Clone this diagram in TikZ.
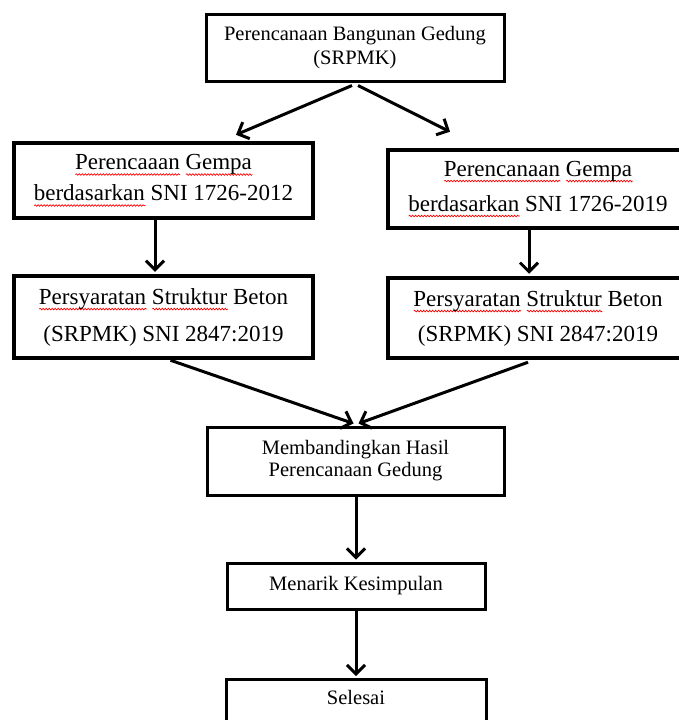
\documentclass[tikz,border=0pt]{standalone}
\usepackage{fontspec}
\setmainfont{Liberation Serif}
\usetikzlibrary{arrows.meta,calc,decorations.pathmorphing}
\newsavebox{\sqbox}
\newlength{\sqlen}
\newcommand{\sqw}[1]{\sbox{\sqbox}{#1}\setlength{\sqlen}{\wd\sqbox}%
  \rlap{\raisebox{-5pt}{\tikz[baseline=0pt,x=1pt,y=1pt]\draw[red,line width=0.7pt,decorate,decoration={snake,amplitude=0.8pt,segment length=3pt}] (0,0)--(\sqlen,0);}}\usebox{\sqbox}}
\tikzset{
  cbox/.style={draw, line width=3pt, inner sep=0pt, align=center, font=\fontsize{20.5}{24}\selectfont},
  sbox/.style={draw, line width=4.5pt, inner sep=0pt, align=center},
  arr/.style={line width=3pt, -{Straight Barb[length=9pt,width=18pt]}}
}
\begin{document}
\begin{tikzpicture}[x=1pt,y=-1pt]
\useasboundingbox (0,0) rectangle (679,720);
\node[cbox, minimum width=298pt, minimum height=67pt] (top) at (355,47.5)
  {Perencanaan Bangunan Gedung\\(SRPMK)};
\node[sbox, minimum width=299pt, minimum height=75pt, font=\fontsize{23}{31}\selectfont] (L2) at (163.5,180.5)
  {\sqw{Perencaaan} \sqw{Gempa}\\\sqw{berdasarkan} SNI 1726-2012};
\node[sbox, minimum width=300pt, minimum height=78pt, font=\fontsize{23}{35}\selectfont] (R2) at (538,189)
  {\sqw{Perencanaan} \sqw{Gempa}\\\sqw{berdasarkan} SNI 1726-2019};
\node[sbox, minimum width=299pt, minimum height=82pt, font=\fontsize{23}{37}\selectfont] (L3) at (163.5,317)
  {\sqw{Persyaratan} \sqw{Struktur} Beton\\(SRPMK) SNI 2847:2019};
\node[sbox, minimum width=300pt, minimum height=80pt, font=\fontsize{23}{35}\selectfont] (R3) at (538,318)
  {\sqw{Persyaratan} \sqw{Struktur} Beton\\(SRPMK) SNI 2847:2019};
\node[cbox, minimum width=297pt, minimum height=68pt, font=\fontsize{20.5}{22}\selectfont] (B4) at (355.5,461)
  {Membandingkan Hasil\\Perencanaan Gedung};
\node[cbox, minimum width=258pt, minimum height=46pt] (B5) at (356,586)
  {Menarik Kesimpulan};
\node[cbox, minimum width=260pt, minimum height=80pt, anchor=north] (B6) at (356,678) {};
\node[font=\fontsize{20.5}{24}\selectfont, inner sep=0pt] (B6t) at ($(B6.north)+(0,19)$) {Selesai};
\draw[arr] ($(top.south)+(-3,3)$) -- ($(L2.north)+(72.5,-6)$);
\draw[arr] ($(top.south)+(3,3)$) -- ($(R2.north)+(-88,-16)$);
\draw[arr] ($(L2.south)+(-8.5,0)$) -- ($(L3.north)+(-8.5,-2)$);
\draw[arr] ($(R2.south)+(-9,0)$) -- ($(R3.north)+(-9,-2)$);
\draw[arr] ($(L3.south)+(7,0)$) -- ($(B4.north)+(-2,-2)$);
\draw[arr] ($(R3.south)+(-10,2)$) -- ($(B4.north)+(3,-2)$);
\draw[arr] ($(B4.south)+(0.5,0)$) -- ($(B5.north)+(0,-2)$);
\draw[arr] (B5.south) -- ($(B6.north)+(0,-2)$);
\end{tikzpicture}
\end{document}
